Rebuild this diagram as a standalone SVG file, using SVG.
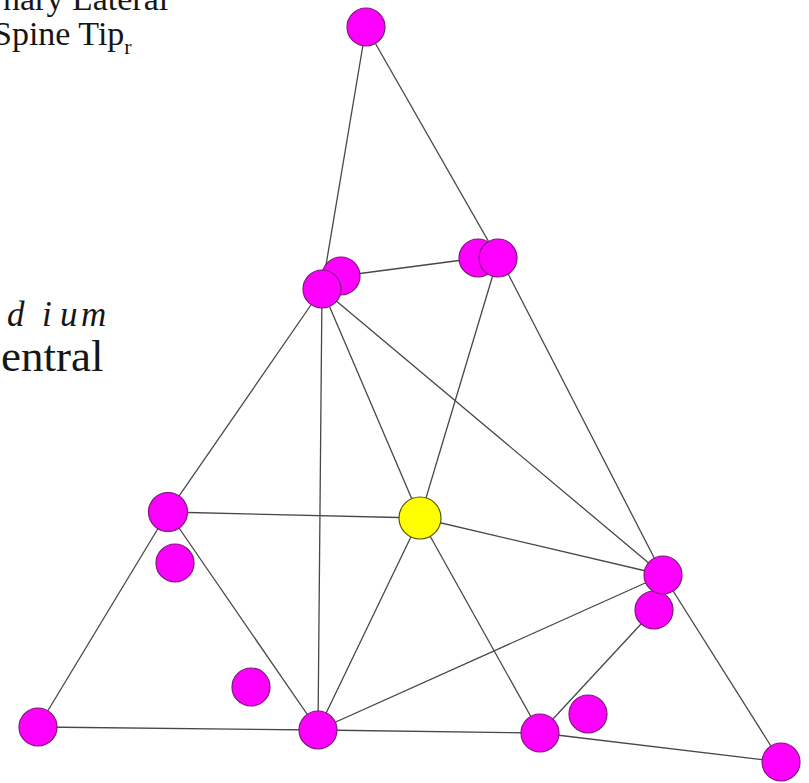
<svg xmlns="http://www.w3.org/2000/svg" width="809" height="783" viewBox="0 0 809 783">
<style>
.e{stroke:#474747;stroke-width:1.3;fill:none}
.m{fill:#ff00ff;stroke:#7a1a7a;stroke-width:1.2}
.y{fill:#ffff00;stroke:#555500;stroke-width:1.2}
.t{font-family:"Liberation Serif","Times New Roman",serif;fill:#161616}
</style>
<rect width="809" height="783" fill="#ffffff"/>
<g id="labels">
<text class="t" x="3" y="10" font-size="34">nary Lateral</text>
<text class="t" x="-7" y="45" font-size="34">Spine Tip<tspan font-size="22" dy="9">r</tspan></text>
<text class="t" x="7 42 60 81" y="326" font-size="35" font-style="italic">dium</text>
<text class="t" x="1" y="371" font-size="45">entral</text>
</g>
<g id="connectors">
<line class="e" x1="366" y1="27" x2="322" y2="289"/>
<line class="e" x1="366" y1="27" x2="498" y2="258"/>
<line class="e" x1="341" y1="276" x2="478" y2="258"/>
<line class="e" x1="322" y1="289" x2="168" y2="512"/>
<line class="e" x1="322" y1="289" x2="318" y2="730"/>
<line class="e" x1="322" y1="289" x2="420" y2="518"/>
<line class="e" x1="322" y1="289" x2="663" y2="575"/>
<line class="e" x1="498" y1="258" x2="420" y2="518"/>
<line class="e" x1="500" y1="258" x2="663" y2="575"/>
<line class="e" x1="168" y1="512" x2="420" y2="518"/>
<line class="e" x1="168" y1="512" x2="38" y2="727"/>
<line class="e" x1="168" y1="512" x2="318" y2="730"/>
<line class="e" x1="420" y1="518" x2="318" y2="730"/>
<line class="e" x1="420" y1="518" x2="663" y2="575"/>
<line class="e" x1="420" y1="518" x2="540" y2="733"/>
<line class="e" x1="318" y1="730" x2="663" y2="575"/>
<line class="e" x1="38" y1="727" x2="318" y2="730"/>
<line class="e" x1="318" y1="730" x2="540" y2="733"/>
<line class="e" x1="540" y1="733" x2="654" y2="610"/>
<line class="e" x1="540" y1="733" x2="781" y2="762"/>
<line class="e" x1="663" y1="575" x2="781" y2="762"/>
</g>
<g id="n_top"><circle class="m" cx="366" cy="27" r="19"/></g>
<g id="n_a1"><circle class="m" cx="341" cy="276" r="19"/></g>
<g id="n_a2"><circle class="m" cx="322" cy="289" r="19"/></g>
<g id="n_b1"><circle class="m" cx="478" cy="258" r="19"/></g>
<g id="n_b2"><circle class="m" cx="498" cy="258" r="19"/></g>
<g id="n_left"><circle class="m" cx="168" cy="512" r="19.5"/></g>
<g id="n_left2"><circle class="m" cx="175" cy="563" r="19"/></g>
<g id="n_center"><circle class="y" cx="420" cy="518" r="21"/></g>
<g id="n_right2"><circle class="m" cx="654" cy="610" r="19"/></g>
<g id="n_right"><circle class="m" cx="663" cy="575" r="19"/></g>
<g id="n_bl"><circle class="m" cx="38" cy="727" r="19"/></g>
<g id="n_mid"><circle class="m" cx="251" cy="687" r="19"/></g>
<g id="n_bm"><circle class="m" cx="318" cy="730" r="19"/></g>
<g id="n_bm2"><circle class="m" cx="540" cy="733" r="19"/></g>
<g id="n_bm3"><circle class="m" cx="588" cy="714" r="19"/></g>
<g id="n_br"><circle class="m" cx="781" cy="762" r="19"/></g>
</svg>
